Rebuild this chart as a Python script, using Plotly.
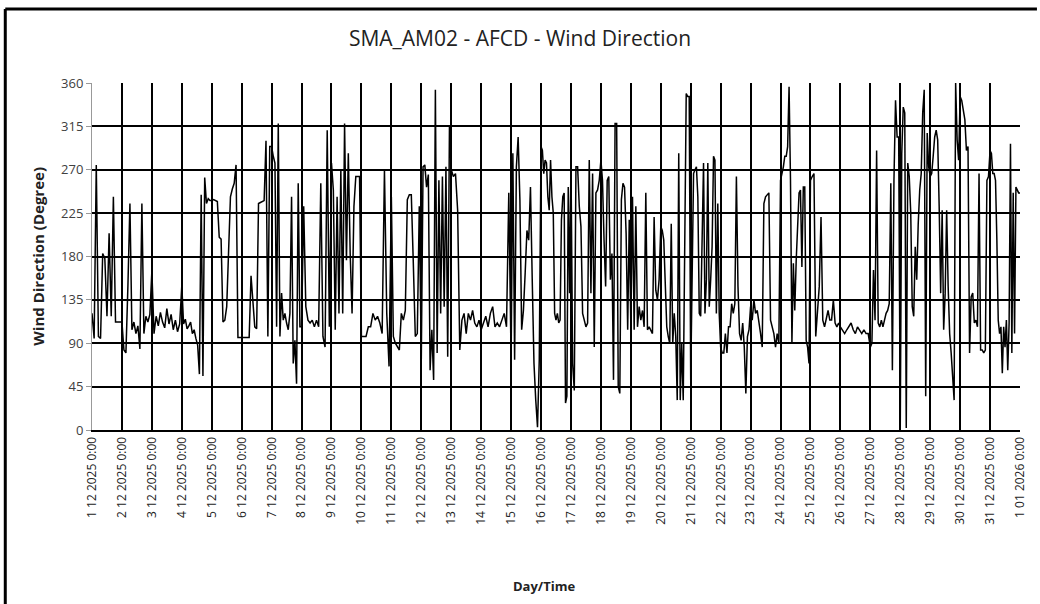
import pandas as pd
import plotly.graph_objects as go

# readings per day (degrees), evenly spread through each day
dec01 = [121, 95, 275, 97, 95, 183, 178, 118, 204, 118, 242, 112, 112, 112]
dec02 = [112, 83, 80, 150, 235, 104, 112, 100, 108, 84, 235, 100, 118, 112, 120]
dec03 = [165, 100, 118, 108, 122, 112, 106, 126, 110, 120, 104, 114, 102, 110]
dec04 = [150, 110, 115, 105, 108, 112, 100, 104, 95, 88, 58, 244, 56, 262, 235, 240, 238]
dec05 = [238, 239, 238, 237, 200, 198, 112, 114, 128, 176, 242, 250, 256, 275, 96, 96]
dec06 = [96, 96, 96, 96, 96, 160, 128, 107, 105, 235, 236, 237, 238, 300, 97, 294]
dec07 = [294, 284, 277, 107, 318, 97, 142, 114, 121, 111, 104, 121, 242, 69, 93, 48, 256, 107]
dec08 = [107, 232, 128, 114, 111, 114, 107, 114, 107, 256, 97, 86, 311, 107]
dec09 = [277, 249, 104, 242, 121, 270, 121, 318, 176, 287, 183, 121, 232, 263, 263, 263]
dec10 = [97, 97, 97, 107, 107, 121, 114, 118, 111, 100, 270, 121, 66]
dec11 = [242, 97, 90, 86, 83, 121, 114, 124, 239, 244, 244, 173, 97, 100, 232]
dec12 = [73, 273, 275, 252, 265, 62, 104, 52, 353, 80, 259, 121, 263, 128, 273, 76, 315]
dec13 = [270, 263, 266, 228, 83, 114, 121, 100, 121, 114, 124, 111, 107, 114]
dec14 = [104, 111, 118, 107, 121, 128, 107, 111, 107, 114, 121, 107, 246]
dec15 = [73, 287, 73, 273, 304, 239, 104, 124, 163, 207, 197, 252, 156, 69, 31, 3, 73]
dec16 = [294, 290, 266, 280, 277, 242, 228, 280, 242, 225, 121, 114, 121, 111, 114, 218, 242, 246, 28, 35, 252, 142]
dec17 = [280, 69, 41, 273, 273, 232, 211, 121, 114, 107, 111, 280, 142, 266, 86, 246, 249, 259]
dec18 = [280, 259, 197, 149, 259, 263, 156, 183, 52, 318, 318, 45, 38, 239, 256, 252, 204, 104, 218]
dec19 = [107, 242, 104, 232, 107, 128, 114, 124, 107, 246, 104, 107, 104, 100, 221, 145, 135, 156]
dec20 = [211, 207, 197, 142, 107, 97, 90, 214, 90, 121, 97, 31, 287, 31, 90, 31, 163, 349, 346, 346]
dec21 = [52, 190, 266, 270, 273, 242, 121, 118, 225, 277, 121, 156, 277, 128, 156, 190, 284, 280, 121, 235, 121]
dec22 = [86, 80, 80, 100, 80, 107, 107, 131, 121, 131, 263, 149, 100, 93, 111, 86, 38, 97, 104]
dec23 = [128, 114, 135, 121, 124, 114, 100, 86, 235, 242, 244, 246, 114, 107, 100, 86, 100, 90]
dec24 = [259, 266, 273, 284, 284, 294, 356, 259, 90, 173, 124, 176, 218, 246, 249, 169, 252, 252, 93, 86, 69]
dec25 = [259, 263, 266, 97, 124, 149, 221, 114, 107, 114, 124, 114, 114, 135, 111, 107, 111]
dec26 = [107, 104, 100, 104, 107, 111, 104, 100, 107, 104, 100, 104, 100, 100]
dec27 = [86, 90, 166, 114, 290, 111, 107, 114, 107, 114, 121, 124, 131, 256, 62, 259, 342, 304, 304]
dec28 = [2, 287, 335, 329, 2, 277, 263, 225, 128, 118, 190, 156, 214, 249, 266, 329, 353, 35, 308, 273]
dec29 = [263, 266, 284, 304, 311, 301, 232, 142, 228, 104, 142, 228, 149, 100, 80, 52, 31, 360, 301, 280]
dec30 = [346, 342, 329, 322, 290, 294, 80, 138, 142, 111, 114, 107, 266, 83, 83, 80, 83, 259, 263]
dec31 = [290, 287, 266, 266, 259, 197, 114, 100, 107, 59, 107, 86, 114, 62, 111, 297, 80, 246, 100, 252, 249, 246]
jan01 = [246]

days = [dec01, dec02, dec03, dec04, dec05, dec06, dec07, dec08, dec09, dec10,
        dec11, dec12, dec13, dec14, dec15, dec16, dec17, dec18, dec19, dec20,
        dec21, dec22, dec23, dec24, dec25, dec26, dec27, dec28, dec29, dec30, dec31, jan01]

start = pd.Timestamp("2025-12-01")
times, values = [], []
for i, day in enumerate(days):
    d0 = start + pd.Timedelta(days=i)
    for j, v in enumerate(day):
        times.append(d0 + pd.Timedelta(hours=24 * j / len(day)))
        values.append(v)

tick_dates = pd.date_range("2025-12-01", "2026-01-01", freq="D")
tick_text = [f"{d.day} {d.month:02d} {d.year} 0:00" for d in tick_dates]

FONT = "Open Sans"
L, R, T, B = 92, 17, 83, 174
W, H = 1040, 604
pw, ph = W - L - R, H - T - B

fig = go.Figure()
fig.add_trace(go.Scatter(x=times, y=values, mode="lines",
                         line=dict(color="#000000", width=1.5), showlegend=False))

fig.update_layout(
    width=W, height=H,
    paper_bgcolor="white", plot_bgcolor="white",
    margin=dict(l=L, r=R, t=T, b=B),
    title=dict(text="SMA_AM02 - AFCD - Wind Direction", x=0.5, xanchor="center",
               y=1 - 39 / H, yanchor="middle",
               font=dict(family=FONT, size=21, color="#222222")),
    font=dict(family=FONT, color="#404040"),
)
fig.update_xaxes(
    range=[tick_dates[0], tick_dates[-1]],
    tickmode="array", tickvals=tick_dates, ticktext=tick_text,
    tickangle=-90, tickfont=dict(size=12, color="#222222"),
    showgrid=True, gridcolor="#000000", gridwidth=2,
    showline=True, linecolor="#000000", linewidth=2,
    ticks="", zeroline=False,
)
fig.update_yaxes(
    range=[0, 360], tickmode="linear", tick0=0, dtick=45,
    tickfont=dict(size=13, color="#404040"),
    showgrid=True, gridcolor="#000000", gridwidth=2,
    showline=True, linecolor="#999999", linewidth=1,
    ticks="outside", ticklen=5, tickcolor="#999999", zeroline=False,
)

fig.add_annotation(text="<b>Wind Direction (Degree)</b>", textangle=-90,
                   xref="paper", yref="paper", x=(37 - L) / pw, y=0.5,
                   xanchor="center", yanchor="middle",
                   showarrow=False, font=dict(family=FONT, size=15, color="#222222"))
fig.add_annotation(text="<b>Day/Time</b>",
                   xref="paper", yref="paper", x=(546 - L) / pw, y=-(586 - T - ph) / ph,
                   xanchor="center", yanchor="middle",
                   showarrow=False, font=dict(family=FONT, size=13, color="#222222"))

# outer chart border (left and top edges visible)
fig.add_shape(type="line", xref="paper", yref="paper",
              x0=(5 - L) / pw, x1=(5 - L) / pw, y0=-(H - T - ph) / ph, y1=1 + (T - 9) / ph,
              line=dict(color="#000000", width=3))
fig.add_shape(type="line", xref="paper", yref="paper",
              x0=(5 - L) / pw, x1=(W - L) / pw, y0=1 + (T - 9) / ph, y1=1 + (T - 9) / ph,
              line=dict(color="#000000", width=3))

fig.write_html("out.html", config={"displayModeBar": False},
               post_script="document.body.style.margin='0';")
